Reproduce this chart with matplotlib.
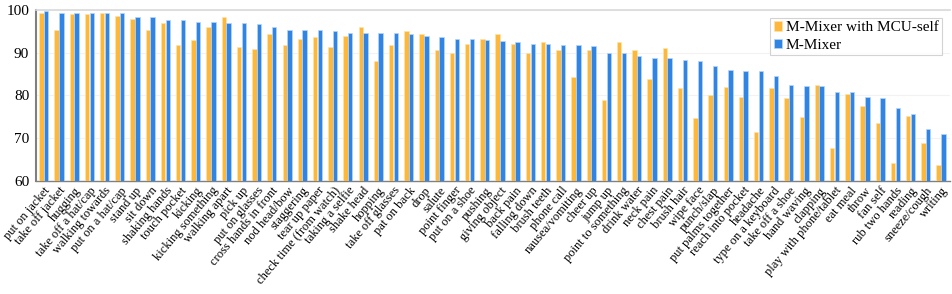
import numpy as np
import matplotlib
matplotlib.use("Agg")
import matplotlib.pyplot as plt

actions = [
    "put on jacket", "take off jacket", "hugging", "take off a hat/cap", "walking towards",
    "put on a hat/cap", "stand up", "sit down", "shaking hands", "touch pocket",
    "kicking", "kicking something", "walking apart", "pick up", "put on glasses",
    "cross hands in front", "nod head/bow", "staggering", "tear up paper", "check time (from watch)",
    "taking a selfie", "shake head", "hopping", "take off glasses", "pat on back",
    "drop", "salute", "point finger", "put on a shoe", "pushing",
    "giving object", "back pain", "falling down", "brush teeth", "phone call",
    "nausea/vomiting", "cheer up", "jump up", "point to something", "drink water",
    "neck pain", "chest pain", "brush hair", "wipe face", "punch/slap",
    "put palms together", "reach into pocket", "headache", "type on a keyboard", "take off a shoe",
    "hand waving", "clapping", "play with phone/tablet", "eat meal", "throw",
    "fan self", "rub two hands", "reading", "sneeze/cough", "writing",
]

mcu_self = [
    99.4, 95.3, 99.0, 99.0, 99.4, 98.7, 97.9, 95.3, 96.9, 91.7,
    92.9, 96.1, 98.3, 91.3, 90.8, 94.3, 91.7, 93.1, 93.7, 91.3,
    93.9, 96.1, 88.0, 91.7, 95.0, 94.3, 90.6, 89.9, 92.1, 93.2,
    94.3, 92.1, 89.9, 92.4, 90.6, 84.3, 90.6, 79.0, 92.4, 90.6,
    83.7, 91.0, 81.7, 74.6, 80.0, 81.9, 79.6, 71.4, 81.7, 79.3,
    74.9, 82.4, 67.7, 80.4, 77.5, 73.5, 64.2, 75.1, 68.9, 63.7,
]

m_mixer = [
    99.8, 99.4, 99.4, 99.3, 99.4, 99.4, 98.3, 98.3, 97.6, 97.6,
    97.2, 97.2, 96.9, 96.9, 96.7, 96.1, 95.3, 95.3, 95.2, 95.0,
    94.7, 94.6, 94.6, 94.6, 94.3, 93.9, 93.6, 93.2, 93.1, 92.9,
    92.8, 92.4, 92.1, 92.0, 91.7, 91.7, 91.6, 89.9, 89.9, 89.1,
    88.8, 88.8, 88.3, 88.1, 86.9, 85.9, 85.8, 85.6, 84.4, 82.5,
    82.2, 82.1, 80.8, 80.8, 79.6, 79.3, 76.9, 75.5, 72.2, 71.0,
]

plt.rcParams["font.family"] = ["Liberation Serif", "DejaVu Serif"]

fig = plt.figure(figsize=(9.52, 2.94), dpi=100)
ax = fig.add_axes([0.038, 0.386, 0.960, 0.580])

x = np.arange(len(actions))
width = 0.29
ax.bar(x - width / 2 - 0.01, mcu_self, width, color="#FDB73A",
       edgecolor="#FFE3A8", linewidth=0.5, label="M-Mixer with MCU-self", zorder=3)
ax.bar(x + width / 2 + 0.01, m_mixer, width, color="#2F84E4",
       edgecolor="#B8D6F6", linewidth=0.5, label="M-Mixer", zorder=3)

ax.set_ylim(60, 100)
ax.set_xlim(-0.5, 59.6)
ax.set_yticks([60, 70, 80, 90, 100])
ax.yaxis.grid(True, color="#f2f2f2", linewidth=0.8, zorder=0)
ax.tick_params(axis="y", length=0, labelsize=11, pad=5)
ax.tick_params(axis="x", length=0, labelsize=9, pad=3)

ax.set_xticks(x)
ax.set_xticklabels(actions, rotation=50, ha="right", rotation_mode="anchor")

ax.spines["left"].set_color("#808080")
ax.spines["left"].set_linewidth(1.5)
ax.spines["bottom"].set_color("#808080")
ax.spines["bottom"].set_linewidth(1.0)
ax.spines["top"].set_color("#d9d9d9")
ax.spines["top"].set_linewidth(1.2)
ax.spines["right"].set_visible(False)

leg = ax.legend(loc="upper right", fontsize=11, frameon=True, fancybox=False,
                handlelength=0.55, handleheight=0.55, handletextpad=0.25,
                borderpad=0.22, labelspacing=0.28, borderaxespad=0.3,
                bbox_to_anchor=(0.996, 0.98))
leg.get_frame().set_edgecolor("#c8c8c8")
leg.get_frame().set_linewidth(0.8)

fig.savefig("out.png", dpi=100)
